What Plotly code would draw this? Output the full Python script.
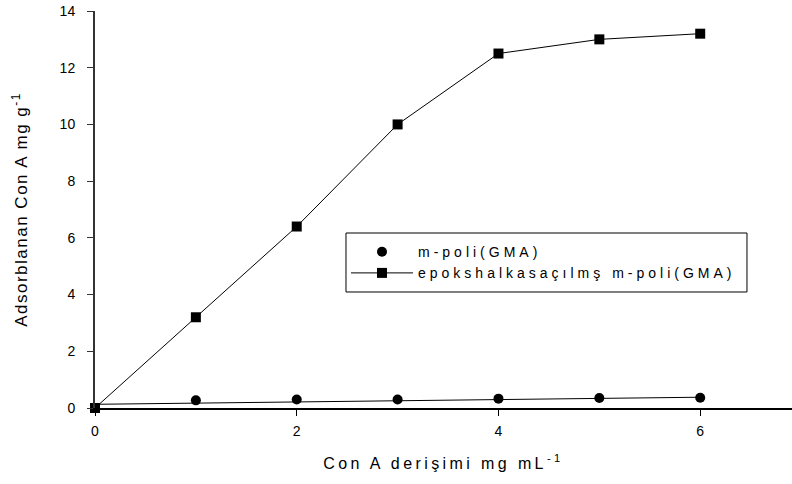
import plotly.graph_objects as go

# Con A concentration (mg/mL)
conc = [0, 1, 2, 3, 4, 5, 6]
# Adsorbed Con A (mg/g)
plain_vals = [0, 0.27, 0.30, 0.30, 0.33, 0.35, 0.36]
opened_vals = [0, 3.2, 6.4, 10.0, 12.5, 13.0, 13.2]
# fitted trend through the m-poli(GMA) data
trend_x = [0, 6]
trend_y = [0.13, 0.38]

x_ticks = [0, 2, 4, 6]
y_ticks = [0, 2, 4, 6, 8, 10, 12, 14]

name_plain = "m-poli(GMA)"
name_opened = "epokshalkasaçılmş m-poli(GMA)"

FONT = "Liberation Sans, Arial, sans-serif"


def spaced(text, px):
    return f'<span style="letter-spacing:{px}px">{text}</span>'


fig = go.Figure()

fig.add_trace(go.Scatter(
    x=trend_x, y=trend_y, mode="lines",
    line=dict(color="black", width=1),
    showlegend=False, hoverinfo="skip", cliponaxis=False,
))
fig.add_trace(go.Scatter(
    x=conc, y=plain_vals, mode="markers", name=spaced(name_plain, 4),
    marker=dict(symbol="circle", size=10, color="black"),
    cliponaxis=False,
))
fig.add_trace(go.Scatter(
    x=conc, y=opened_vals, mode="lines+markers", name=spaced(name_opened, 4),
    line=dict(color="black", width=1),
    marker=dict(symbol="square", size=10, color="black"),
    cliponaxis=False,
))

# legend frame
fig.add_shape(
    type="rect", xref="paper", yref="paper",
    x0=0.3601, x1=0.9354, y0=0.2922, y1=0.4408,
    line=dict(color="black", width=1), fillcolor="rgba(0,0,0,0)", layer="above",
)

fig.update_layout(
    width=792, height=484,
    margin=dict(l=95, r=0, t=11, b=76),
    paper_bgcolor="white", plot_bgcolor="white",
    font=dict(family=FONT, size=14, color="black"),
    showlegend=True,
    legend=dict(
        x=0.3601, y=0.433, xanchor="left", yanchor="top",
        bgcolor="rgba(0,0,0,0)", borderwidth=0,
        font=dict(family=FONT, size=14, color="black"),
        tracegroupgap=0, itemwidth=62,
    ),
    xaxis=dict(
        range=[0, 6.91], tickvals=x_ticks, ticktext=[str(v) for v in x_ticks],
        showgrid=False, zeroline=False,
        showline=True, linecolor="black", linewidth=2,
        ticks="outside", ticklen=6, tickwidth=1, tickcolor="black",
        ticklabelstandoff=3,
        tickfont=dict(size=14),
        title=dict(text=spaced("Con A derişimi mg mL<sup>-1</sup>", 3.4),
                   font=dict(size=16), standoff=20),
    ),
    yaxis=dict(
        range=[0, 14], tickvals=y_ticks, ticktext=[str(v) for v in y_ticks],
        showgrid=False, zeroline=False,
        showline=True, linecolor="#333333", linewidth=2,
        ticks="outside", ticklen=6, tickwidth=1, tickcolor="#333333",
        ticklabelstandoff=9,
        tickfont=dict(size=14),
        title=dict(text=spaced("Adsorblanan Con A mg g<sup>-1</sup>", 1.5),
                   font=dict(size=17), standoff=28),
    ),
)

fig.write_html("out.html")
